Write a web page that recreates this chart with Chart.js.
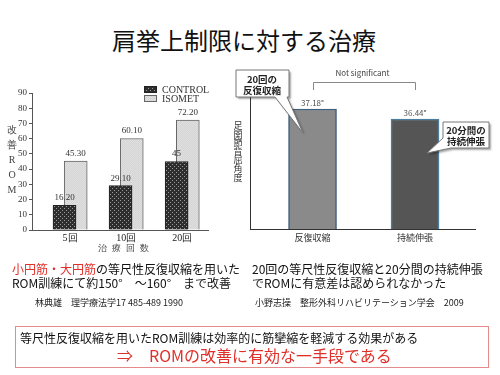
<!DOCTYPE html>
<html>
<head>
<meta charset="utf-8">
<script src="https://cdn.jsdelivr.net/npm/chart.js@4.4.1/dist/chart.umd.min.js"></script>
<style>
  body { margin: 0; width: 500px; height: 375px; background: #fff; position: relative; overflow: hidden;
         font-family: "Noto Sans CJK JP", sans-serif; color: #111; }
  .t { position: absolute; white-space: nowrap; }
  .stack { position: absolute; text-align: center; }
  #leftWrap  { position: absolute; left: 0;     top: 60px; width: 240px; height: 200px; }
  #rightWrap { position: absolute; left: 225px; top: 60px; width: 275px; height: 200px; }
  .red { color: #e0302a; }
</style>
</head>
<body>
<div class="t" style="left:0;width:488px;text-align:center;top:24px;font-size:24px;line-height:32px;">肩挙上制限に対する治療</div>

<div id="leftWrap"><canvas id="leftChart"></canvas></div>
<div id="rightWrap"><canvas id="rightChart"></canvas></div>

<!-- 軸タイトル（縦書き） -->
<div class="stack" style="left:5px;top:122px;width:14px;font:10px/15px 'Liberation Serif',serif;color:#444;">改<br>善<br>R<br>O<br>M</div>
<div class="t" style="left:98px;top:242px;font:9px/12px 'Liberation Serif',serif;letter-spacing:5px;color:#444;">治療回数</div>
<div class="stack" style="left:232px;top:122px;width:12px;font:9px/8.6px 'Noto Sans CJK JP',sans-serif;color:#333;">足<br>関<br>節<br>背<br>屈<br>角<br>度</div>

<!-- 下部テキスト -->
<div class="t" style="left:12px;top:262px;font-size:12px;line-height:14px;">
  <span class="red">小円筋・大円筋</span>の等尺性反復収縮を用いた<br>ROM訓練にて約150°　～160°　まで改善</div>
<div class="t" style="left:252px;top:262px;font-size:12px;line-height:14px;">
  20回の等尺性反復収縮と20分間の持続伸張<br>でROMに有意差は認められなかった</div>
<div class="t" style="left:35px;top:297px;font-size:9px;line-height:12px;color:#222;">林典雄　理学療法学17 485-489 1990</div>
<div class="t" style="left:255px;top:297px;font-size:9px;line-height:12px;color:#222;">小野志操　整形外科リハビリテーション学会　2009</div>

<div style="position:absolute;left:15px;top:326px;width:472px;height:40px;border:1px solid #e48a8a;"></div>
<div class="t" style="left:20px;top:331px;font-size:12px;line-height:14px;">等尺性反復収縮を用いたROM訓練は効率的に筋攣縮を軽減する効果がある</div>
<div class="t red" style="left:117px;top:345px;font-size:16px;line-height:20px;">⇒　ROMの改善に有効な一手段である</div>

<script>
// ---- 左図: 治療回数ごとの改善ROM ----
const categories    = ['5回', '10回', '20回']
const controlValues = [16.2, 29.1, 45]
const isometValues  = [45.3, 60.1, 72.2]
const controlLabels = ['16.20', '29.10', '45']
const isometLabels  = ['45.30', '60.10', '72.20']
const romTicks      = [0, 10, 20, 30, 40, 50, 60, 70, 80, 90]

// ---- 右図: 反復収縮 vs 持続伸張 ----
const stretchCategories = ['反復収縮', '持続伸張']
const stretchValues     = [37.18, 36.44]
const stretchLabels     = ['37.18°', '36.44°']

const SERIF = "'Liberation Serif', serif"
const SANS  = "'Noto Sans CJK JP', sans-serif"

// 網掛けパターン（古い印刷物っぽい質感）
function makePattern(size, draw) {
  const c = document.createElement('canvas')
  c.width = c.height = size
  const g = c.getContext('2d')
  draw(g)
  return g.createPattern(c, 'repeat')
}
const controlFill = makePattern(4, (g) => {
  g.fillStyle = '#2e2e2e'; g.fillRect(0, 0, 4, 4)
  g.fillStyle = '#9a9a9a'; g.fillRect(0, 0, 1, 1); g.fillRect(2, 2, 1, 1)
})
const isometFill = makePattern(2, (g) => {
  g.fillStyle = '#d4d4d4'; g.fillRect(0, 0, 2, 2)
  g.fillStyle = '#e0e0e0'; g.fillRect(0, 0, 1, 1); g.fillRect(1, 1, 1, 1)
})

// 棒の上の数値ラベル＋凡例
const leftDecor = {
  id: 'leftDecor',
  afterDatasetsDraw(chart) {
    const ctx = chart.ctx
    const labelSets = [controlLabels, isometLabels]
    ctx.save()
    ctx.font = `9px ${SERIF}`
    ctx.fillStyle = '#333'
    ctx.textAlign = 'center'
    ctx.textBaseline = 'bottom'
    chart.data.datasets.forEach((ds, di) => {
      chart.getDatasetMeta(di).data.forEach((bar, i) => {
        ctx.fillText(labelSets[di][i], bar.x, bar.y - 3)
      })
    })
    // 凡例
    const items = [[controlFill, '#222', 'CONTROL'], [isometFill, '#666', 'ISOMET']]
    ctx.font = `10px ${SERIF}`
    ctx.textAlign = 'left'
    ctx.textBaseline = 'middle'
    items.forEach(([fill, stroke, text], k) => {
      const y = 26 + k * 9
      ctx.fillStyle = fill
      ctx.fillRect(144, y, 13, 7)
      ctx.strokeStyle = stroke
      ctx.lineWidth = 1
      ctx.strokeRect(144.5, y + 0.5, 12, 6)
      ctx.fillStyle = '#333'
      ctx.fillText(text, 162, y + 4)
    })
    ctx.restore()
  }
}

new Chart(document.getElementById('leftChart'), {
  type: 'bar',
  data: {
    datasets: [
      {
        label: 'CONTROL',
        data: controlValues.map((v, i) => ({ x: i + 1 - 0.1, y: v })),
        backgroundColor: controlFill,
        borderColor: '#222',
        borderWidth: 1,
        barThickness: 23,
        grouped: false
      },
      {
        label: 'ISOMET',
        data: isometValues.map((v, i) => ({ x: i + 1 + 0.1, y: v })),
        backgroundColor: isometFill,
        borderColor: '#666',
        borderWidth: 1,
        barThickness: 23,
        grouped: false
      }
    ]
  },
  options: {
    responsive: true,
    maintainAspectRatio: false,
    animation: false,
    layout: { padding: { top: 33, right: 32, left: 0, bottom: 0 } },
    plugins: { legend: { display: false }, tooltip: { enabled: false } },
    scales: {
      x: {
        type: 'linear',
        offset: false,
        min: 0.32,
        max: 3.46,
        afterBuildTicks: (scale) => { scale.ticks = categories.map((c, i) => ({ value: i + 1 })) },
        afterFit: (scale) => { scale.height = 30 },
        ticks: {
          callback: (value) => categories[Math.round(value) - 1],
          font: { family: SERIF, size: 10 },
          color: '#222',
          padding: 2,
          maxRotation: 0,
          autoSkip: false
        },
        grid: { display: false, drawTicks: false },
        border: { color: '#555', width: 1 }
      },
      y: {
        min: 0,
        max: 90,
        afterBuildTicks: (scale) => { scale.ticks = romTicks.map((v) => ({ value: v })) },
        afterFit: (scale) => { scale.width = 32 },
        ticks: { font: { family: SERIF, size: 9 }, color: '#333', padding: 2 },
        grid: { drawOnChartArea: false, tickLength: 3, color: '#555' },
        border: { color: '#555', width: 1 }
      }
    }
  },
  plugins: [leftDecor]
})

// 吹き出し（影付きの白い箱）
function callout(ctx, points, lines, cx, lineYs) {
  ctx.save()
  ctx.beginPath()
  points.forEach(([x, y], i) => (i ? ctx.lineTo(x, y) : ctx.moveTo(x, y)))
  ctx.closePath()
  ctx.shadowColor = 'rgba(0,0,0,0.35)'
  ctx.shadowOffsetX = 2
  ctx.shadowOffsetY = 2
  ctx.shadowBlur = 2
  ctx.fillStyle = '#fff'
  ctx.fill()
  ctx.shadowColor = 'transparent'
  ctx.strokeStyle = '#777'
  ctx.lineWidth = 1
  ctx.stroke()
  ctx.fillStyle = '#222'
  ctx.font = `bold 9.5px ${SANS}`
  ctx.textAlign = 'center'
  ctx.textBaseline = 'middle'
  lines.forEach((l, i) => ctx.fillText(l, cx, lineYs[i]))
  ctx.restore()
}

const rightDecor = {
  id: 'rightDecor',
  afterDatasetsDraw(chart) {
    const ctx = chart.ctx
    const bars = chart.getDatasetMeta(0).data
    ctx.save()
    ctx.font = `8px ${SANS}`
    ctx.fillStyle = '#555'
    ctx.textAlign = 'center'
    ctx.textBaseline = 'bottom'
    bars.forEach((bar, i) => ctx.fillText(stretchLabels[i], bar.x, bar.y - 2))

    // 有意差なしのブラケット
    const x1 = Math.round(bars[0].x) + 0.5
    const x2 = Math.round(bars[1].x) + 0.5
    ctx.strokeStyle = '#888'
    ctx.lineWidth = 1
    ctx.beginPath()
    ctx.moveTo(x1, 30); ctx.lineTo(x1, 22.5); ctx.lineTo(x2, 22.5); ctx.lineTo(x2, 30)
    ctx.stroke()
    ctx.fillStyle = '#444'
    ctx.textBaseline = 'middle'
    ctx.fillText('Not significant', (x1 + x2) / 2 - 2, 13)
    ctx.restore()

    callout(ctx,
      [[11, 10], [64, 10], [64, 37], [62, 37], [78, 73], [50, 37], [11, 37]],
      ['20回の', '反復収縮'], 37, [19, 30])
    callout(ctx,
      [[218, 62], [264, 62], [264, 88], [226, 88], [202, 93], [218, 78]],
      ['20分間の', '持続伸張'], 241, [70, 81])
  }
}

new Chart(document.getElementById('rightChart'), {
  type: 'bar',
  data: {
    datasets: [{
      data: stretchValues.map((v, i) => ({ x: i + 1, y: v })),
      backgroundColor: ['#8a8a8a', '#555555'],
      borderColor: ['#3d5f80', '#4a7da0'],
      borderWidth: 1.5,
      barThickness: 48
    }]
  },
  options: {
    responsive: true,
    maintainAspectRatio: false,
    animation: false,
    layout: { padding: { top: 32, right: 25, left: 0, bottom: 0 } },
    plugins: { legend: { display: false }, tooltip: { enabled: false } },
    scales: {
      x: {
        type: 'linear',
        offset: false,
        min: 0.39,
        max: 2.585,
        afterBuildTicks: (scale) => { scale.ticks = stretchCategories.map((c, i) => ({ value: i + 1 })) },
        afterFit: (scale) => { scale.height = 31 },
        ticks: {
          callback: (value) => stretchCategories[Math.round(value) - 1],
          font: { family: SANS, size: 9 },
          color: '#333',
          padding: 3,
          maxRotation: 0,
          autoSkip: false
        },
        grid: { display: false, drawTicks: false },
        border: { color: '#333', width: 1 }
      },
      y: {
        min: 28.3,
        max: 38.44,
        afterFit: (scale) => { scale.width = 25 },
        ticks: { display: false },
        grid: { display: false, drawTicks: false },
        border: { color: '#333', width: 1 }
      }
    }
  },
  plugins: [rightDecor]
})
</script>
</body>
</html>
